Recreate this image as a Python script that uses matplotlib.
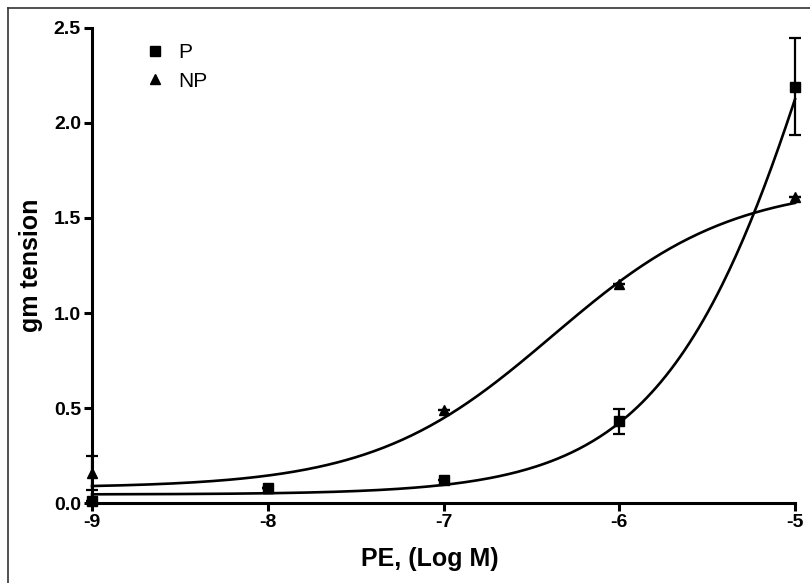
import matplotlib
matplotlib.use("Agg")
import matplotlib.pyplot as plt
import numpy as np
from matplotlib.lines import Line2D

plt.rcParams['font.family'] = ['Liberation Sans', 'DejaVu Sans']

# measured points, log molar PE
log_pe = [-9, -8, -7, -6, -5]
p_mean = [0.01, 0.08, 0.12, 0.43, 2.19]
p_err = [0.0, 0.0, 0.0, 0.065, 0.255]
np_mean = [0.16, 0.08, 0.49, 1.15, 1.61]
np_err = [0.09, 0.0, 0.0, 0.0, 0.0]

# sigmoid fit parameters (bottom, top, logEC50, hill)
p_fit = [0.045, 6.0, -4.7, 0.9]
np_fit = [0.08, 1.68, -6.38, 0.85]


def logistic(x, bottom, top, ec50, hill):
    return bottom + (top - bottom) / (1 + 10 ** (hill * (ec50 - x)))


fig = plt.figure(figsize=(8.1, 5.83), dpi=100)
ax = fig.add_axes([0.1136, 0.1372, 0.8679, 0.8148])

xs = np.linspace(log_pe[0], log_pe[-1], 300)
ax.plot(xs, logistic(xs, *p_fit), color='black', lw=1.9, clip_on=False)
ax.plot(xs, logistic(xs, *np_fit), color='black', lw=1.9, clip_on=False)

ax.errorbar(log_pe, np_mean, yerr=np_err, fmt='^', color='black', ms=7,
            elinewidth=1.6, capsize=4, capthick=1.6, clip_on=False)
ax.errorbar(log_pe, p_mean, yerr=p_err, fmt='s', color='black', ms=7,
            elinewidth=1.6, capsize=4, capthick=1.6, clip_on=False)

ax.set_xlim(-9, -5)
ax.set_ylim(0, 2.5)
ax.set_xticks(log_pe)
ax.set_xticklabels([str(v) for v in log_pe])
ax.set_yticks([0.0, 0.5, 1.0, 1.5, 2.0, 2.5])
ax.set_yticklabels(['0.0', '0.5', '1.0', '1.5', '2.0', '2.5'])

for side in ['top', 'right']:
    ax.spines[side].set_visible(False)
for side in ['left', 'bottom']:
    ax.spines[side].set_linewidth(2.2)
ax.tick_params(direction='out', length=6, width=2.2, labelsize=14, pad=2)
for lab in ax.get_xticklabels() + ax.get_yticklabels():
    lab.set_fontweight('bold')

ax.set_xlabel('PE, (Log M)', fontsize=18, fontweight='bold')
ax.set_ylabel('gm tension', fontsize=18, fontweight='bold', labelpad=8)
ax.xaxis.set_label_coords(0.48, -0.093)

handles = [Line2D([], [], marker='s', ls='none', color='black', ms=7),
           Line2D([], [], marker='^', ls='none', color='black', ms=7)]
ax.legend(handles, ['P', 'NP'], loc='upper left', bbox_to_anchor=(0.06, 0.99),
          frameon=False, fontsize=15, handlelength=1.0, handletextpad=0.6,
          labelspacing=0.45, borderpad=0)

# thin frame around the figure (left and top edges visible)
fig.add_artist(Line2D([0.01, 0.01], [0, 0.986], color='#333333', lw=1.2))
fig.add_artist(Line2D([0.01, 1], [0.986, 0.986], color='#333333', lw=1.2))

fig.savefig('out.png', dpi=100)
